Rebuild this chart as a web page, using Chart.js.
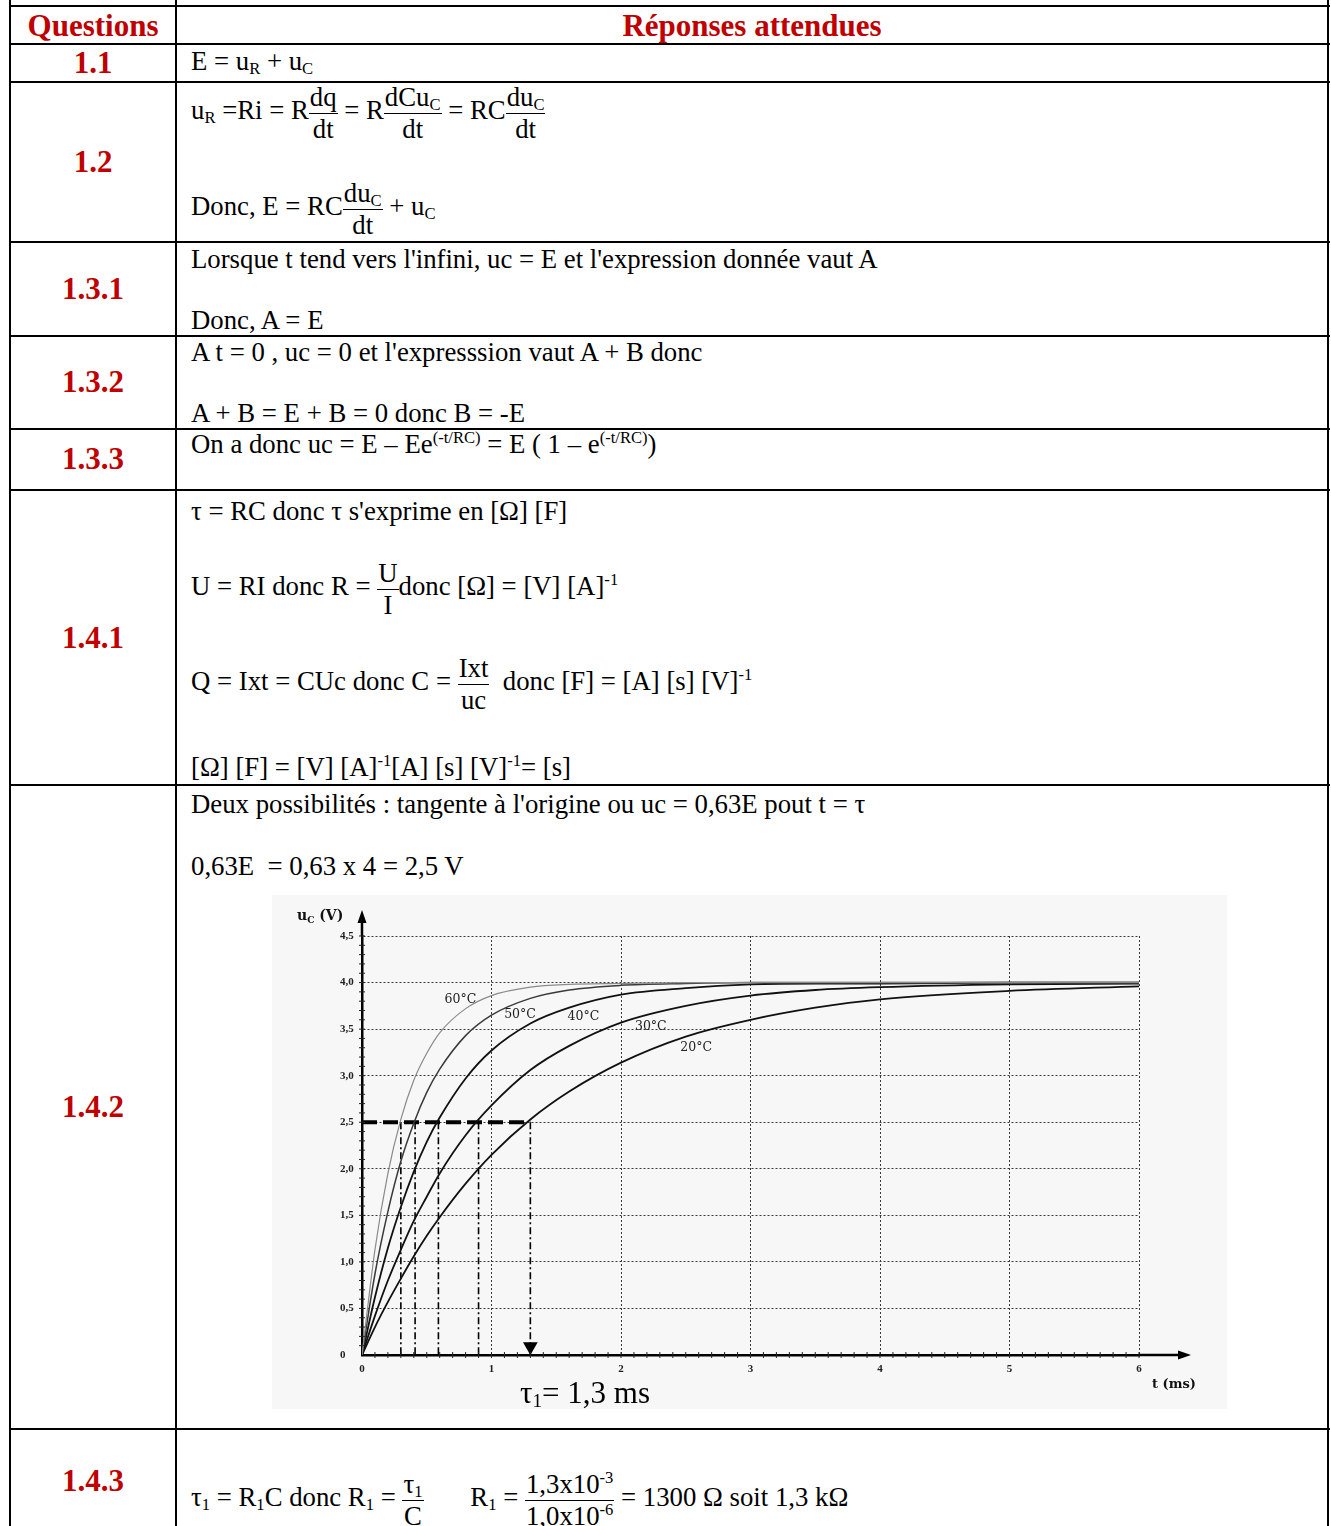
<!DOCTYPE html>
<html lang="fr">
<head>
<meta charset="utf-8">
<title>Réponses attendues</title>
<script src="https://cdn.jsdelivr.net/npm/chart.js@4.4.1/dist/chart.umd.min.js"></script>
<style>
  body { margin: 0; background: #fff; }
  #page { position: relative; width: 1331px; height: 1526px; overflow: hidden;
          font-family: "Liberation Serif", "Times New Roman", serif; color: #000; }
  .h { position: absolute; left: 9px; width: 1321px; height: 2px; background: #000; }
  .v { position: absolute; top: 0; width: 2px; height: 1526px; background: #000; }
  .ln { position: absolute; left: 191px; line-height: 80px; white-space: nowrap; font-size: 26.75px; }
  .q { position: absolute; left: 10px; width: 166px; text-align: center; font-weight: bold;
       color: #c00000; font-size: 31px; line-height: 80px; white-space: nowrap; }
  sub, sup { line-height: 0; font-size: 0.62em; }
  sub { vertical-align: -0.22em; }
  sup { vertical-align: 0.6em; }
  .fr { display: inline-block; vertical-align: -19px; text-align: center; line-height: 31px; }
  .fr > span { display: block; padding: 0 1px; }
  .fr > span:first-child { border-bottom: 1.5px solid #000; }
  #chartBox { position: absolute; left: 272px; top: 895px; width: 955px; height: 514px; background: #f7f7f7; }
</style>
</head>
<body>
<div id="page">
  <!-- table rules -->
  <div class="h" style="top:5px"></div>
  <div class="h" style="top:43px"></div>
  <div class="h" style="top:81px"></div>
  <div class="h" style="top:241px"></div>
  <div class="h" style="top:335px"></div>
  <div class="h" style="top:428px"></div>
  <div class="h" style="top:489px"></div>
  <div class="h" style="top:784px"></div>
  <div class="h" style="top:1428px"></div>
  <div class="v" style="left:9px"></div>
  <div class="v" style="left:175px"></div>
  <div class="v" style="left:1327px"></div>

  <!-- questions column -->
  <div class="q" data-b="36">Questions</div>
  <div class="q" data-b="36" style="left:176px;width:1152px">Réponses attendues</div>
  <div class="q" data-b="73">1.1</div>
  <div class="q" data-b="172">1.2</div>
  <div class="q" data-b="299">1.3.1</div>
  <div class="q" data-b="392">1.3.2</div>
  <div class="q" data-b="469">1.3.3</div>
  <div class="q" data-b="648">1.4.1</div>
  <div class="q" data-b="1117">1.4.2</div>
  <div class="q" data-b="1491">1.4.3</div>

  <!-- answers -->
  <div class="ln" data-b="70">E = u<sub>R</sub> + u<sub>C</sub></div>
  <div class="ln" data-b="119">u<sub>R</sub> =Ri = R<span class="fr"><span>dq</span><span>dt</span></span> = R<span class="fr"><span>dCu<sub>C</sub></span><span>dt</span></span> = RC<span class="fr"><span>du<sub>C</sub></span><span>dt</span></span></div>
  <div class="ln" data-b="215">Donc, E = RC<span class="fr"><span>du<sub>C</sub></span><span>dt</span></span> + u<sub>C</sub></div>
  <div class="ln" data-b="268">Lorsque t tend vers l'infini, uc = E et l'expression donnée vaut A</div>
  <div class="ln" data-b="329">Donc, A = E</div>
  <div class="ln" data-b="361">A t = 0 , uc = 0 et l'expresssion vaut A + B donc</div>
  <div class="ln" data-b="422">A + B = E + B = 0 donc B = -E</div>
  <div class="ln" data-b="453">On a donc uc = E – Ee<sup>(-t/RC)</sup> = E ( 1 – e<sup>(-t/RC)</sup>)</div>
  <div class="ln" data-b="520">τ = RC donc τ s'exprime en [Ω] [F]</div>
  <div class="ln" data-b="595">U = RI donc R = <span class="fr"><span>U</span><span>I</span></span>donc [Ω] = [V] [A]<sup>-1</sup></div>
  <div class="ln" data-b="690">Q = Ixt = CUc donc C = <span class="fr"><span>Ixt</span><span>uc</span></span>&nbsp; donc [F] = [A] [s] [V]<sup>-1</sup></div>
  <div class="ln" data-b="776">[Ω] [F] = [V] [A]<sup>-1</sup>[A] [s] [V]<sup>-1</sup>= [s]</div>
  <div class="ln" data-b="813">Deux possibilités : tangente à l'origine ou uc = 0,63E pout t = τ</div>
  <div class="ln" data-b="875">0,63E &nbsp;= 0,63 x 4 = 2,5 V</div>
  <div class="ln" data-b="1506">τ<sub>1</sub> = R<sub>1</sub>C donc R<sub>1</sub> = <span class="fr"><span>τ<sub>1</sub></span><span>C</span></span>&nbsp;&nbsp;&nbsp;&nbsp;&nbsp;&nbsp; R<sub>1</sub> = <span class="fr"><span>1,3x10<sup>-3</sup></span><span>1,0x10<sup>-6</sup></span></span> = 1300 Ω soit 1,3 kΩ</div>

  <div id="chartBox"><canvas id="rcChart"></canvas></div>
  <div class="ln" data-b="1403" style="left:520px;font-size:31px">τ<sub>1</sub>= 1,3 ms</div>
</div>

<script>
  // place every text line by its baseline
  document.querySelectorAll('[data-b]').forEach(el => {
    const fs = parseFloat(getComputedStyle(el).fontSize);
    const off = (80 - fs * 1.107) / 2 + fs * 0.891;
    el.style.top = (parseFloat(el.dataset.b) - off) + 'px';
  });

  // charge curves uC(t), t in ms, uC in V
  const tMs = [0, 0.1, 0.2, 0.3, 0.4, 0.5, 0.6, 0.8, 1.0, 1.3, 1.6, 2.0, 2.5, 3.0, 3.5, 4.0, 5.0, 6.0];
  const u60 = [0, 1.13, 1.95, 2.53, 2.95, 3.24, 3.46, 3.72, 3.86, 3.95, 3.98, 3.99, 4.0, 4.0, 4.0, 4.0, 4.0, 4.0];
  const u50 = [0, 0.87, 1.54, 2.08, 2.49, 2.82, 3.07, 3.43, 3.65, 3.83, 3.92, 3.97, 3.99, 4.0, 4.0, 4.0, 4.0, 4.0];
  const u40 = [0, 0.62, 1.15, 1.59, 1.97, 2.29, 2.55, 2.97, 3.27, 3.56, 3.73, 3.87, 3.94, 3.98, 3.99, 3.99, 4.0, 4.0];
  const u30 = [0, 0.42, 0.80, 1.13, 1.44, 1.70, 1.95, 2.36, 2.68, 3.06, 3.32, 3.57, 3.75, 3.86, 3.92, 3.95, 3.98, 3.99];
  const u20 = [0, 0.30, 0.57, 0.82, 1.06, 1.28, 1.48, 1.84, 2.15, 2.53, 2.83, 3.14, 3.42, 3.60, 3.73, 3.82, 3.91, 3.96];

  const curveNames = ['60°C', '50°C', '40°C', '30°C', '20°C'];
  const labelAnchors = [[0.76, 3.82], [1.22, 3.65], [1.71, 3.63], [2.23, 3.52], [2.58, 3.30]];

  // time constants read where each curve crosses 0,63E
  const tauMs = [0.30, 0.41, 0.59, 0.90, 1.30];
  const level63 = 2.5;
  const tauArrow = [{ x: 1.30, y: 0.09 }];

  const xTickLabels = ['0', '1', '2', '3', '4', '5', '6'];
  const yTickLabels = ['0', '0,5', '1,0', '1,5', '2,0', '2,5', '3,0', '3,5', '4,0', '4,5'];

  const toPts = ys => tMs.map((t, i) => ({ x: t, y: ys[i] }));
  const curveStyle = [
    { c: '#8a8a8a', w: 1.2 },
    { c: '#3a3a3a', w: 1.5 },
    { c: '#111', w: 1.8 },
    { c: '#111', w: 1.8 },
    { c: '#111', w: 1.8 }
  ];

  const curves = [u60, u50, u40, u30, u20].map((ys, i) => ({
    label: curveNames[i],
    data: toPts(ys),
    borderColor: curveStyle[i].c,
    borderWidth: curveStyle[i].w,
    cubicInterpolationMode: 'monotone',
    pointRadius: 0,
    fill: false
  }));

  const verticals = tauMs.map(t => ({
    label: 'tau ' + t,
    data: [{ x: t, y: level63 }, { x: t, y: 0 }],
    borderColor: '#000',
    borderWidth: 1.6,
    borderDash: [7, 3, 2, 3],
    pointRadius: 0
  }));

  const horizontal = {
    label: '0,63E',
    data: [{ x: 0, y: level63 }, { x: tauMs[tauMs.length - 1], y: level63 }],
    borderColor: '#000',
    borderWidth: 4,
    borderDash: [15, 6],
    pointRadius: 0
  };

  const arrowMark = {
    label: 'tau1',
    data: tauArrow,
    showLine: false,
    pointStyle: 'triangle',
    rotation: 180,
    pointRadius: 8.5,
    backgroundColor: '#000',
    borderColor: '#000',
    borderWidth: 0
  };

  // axes arrows, minor ticks, curve names and axis titles
  const decor = {
    id: 'decor',
    afterDraw(chart) {
      const { ctx, chartArea: a, scales: { x, y } } = chart;
      ctx.save();
      ctx.strokeStyle = '#000';
      ctx.fillStyle = '#000';
      ctx.lineWidth = 2.5;
      ctx.beginPath();
      ctx.moveTo(a.left, a.top);
      ctx.lineTo(a.left, a.top - 18);
      ctx.moveTo(a.right, a.bottom);
      ctx.lineTo(a.right + 44, a.bottom);
      ctx.stroke();
      ctx.beginPath();
      ctx.moveTo(a.left, a.top - 26);
      ctx.lineTo(a.left - 4.5, a.top - 13);
      ctx.lineTo(a.left + 4.5, a.top - 13);
      ctx.closePath();
      ctx.moveTo(a.right + 52, a.bottom);
      ctx.lineTo(a.right + 39, a.bottom - 4.5);
      ctx.lineTo(a.right + 39, a.bottom + 4.5);
      ctx.closePath();
      ctx.fill();

      ctx.lineWidth = 1;
      ctx.strokeStyle = '#222';
      ctx.beginPath();
      for (let i = 1; i <= 60; i++) {
        const px = x.getPixelForValue(i / 10);
        ctx.moveTo(px, a.bottom - 3);
        ctx.lineTo(px, a.bottom + 3);
      }
      for (let i = 1; i <= 45; i++) {
        const py = y.getPixelForValue(i / 10);
        ctx.moveTo(a.left - 3, py);
        ctx.lineTo(a.left + 3, py);
      }
      ctx.stroke();

      ctx.font = '12.5px "DejaVu Serif", serif';
      ctx.fillStyle = '#222';
      ctx.textAlign = 'center';
      ctx.textBaseline = 'middle';
      curveNames.forEach((n, i) => {
        ctx.fillText(n, x.getPixelForValue(labelAnchors[i][0]), y.getPixelForValue(labelAnchors[i][1]));
      });

      ctx.fillStyle = '#111';
      ctx.textAlign = 'left';
      ctx.textBaseline = 'alphabetic';
      const ux = a.left - 65, uy = a.top - 16;
      ctx.font = 'bold 14px "DejaVu Serif", serif';
      ctx.fillText('u', ux, uy);
      const uw = ctx.measureText('u').width;
      ctx.font = 'bold 9px "DejaVu Serif", serif';
      ctx.fillText('C', ux + uw, uy + 3);
      const cw = ctx.measureText('C').width;
      ctx.font = 'bold 14px "DejaVu Serif", serif';
      ctx.fillText(' (V)', ux + uw + cw, uy);

      ctx.font = 'bold 13px "DejaVu Serif", serif';
      ctx.fillText('t (ms)', a.right + 13, a.bottom + 33);
      ctx.restore();
    }
  };

  const tickFont = { family: '"Liberation Serif", serif', size: 11, weight: 'bold' };

  new Chart(document.getElementById('rcChart'), {
    type: 'line',
    data: { datasets: [...curves, horizontal, ...verticals, arrowMark] },
    options: {
      responsive: true,
      maintainAspectRatio: false,
      animation: false,
      layout: { padding: { left: 68, right: 88, top: 41, bottom: 24 } },
      scales: {
        x: {
          type: 'linear', min: 0, max: 6,
          afterFit: s => { s.height = 30; },
          ticks: { stepSize: 1, padding: 8, color: '#222', font: tickFont,
                   callback: (v, i) => xTickLabels[i] },
          grid: { color: '#3a3a3a', lineWidth: 1, drawTicks: false },
          border: { display: true, color: '#000', width: 2.5, dash: [2, 2] }
        },
        y: {
          min: 0, max: 4.5,
          afterFit: s => { s.width = 22; },
          ticks: { stepSize: 0.5, padding: 6, crossAlign: 'far', color: '#222', font: tickFont,
                   callback: (v, i) => yTickLabels[i] },
          grid: { color: '#3a3a3a', lineWidth: 1, drawTicks: false },
          border: { display: true, color: '#000', width: 2.5, dash: [2, 2] }
        }
      },
      plugins: {
        legend: { display: false },
        tooltip: { enabled: false }
      }
    },
    plugins: [decor]
  });
</script>
</body>
</html>
